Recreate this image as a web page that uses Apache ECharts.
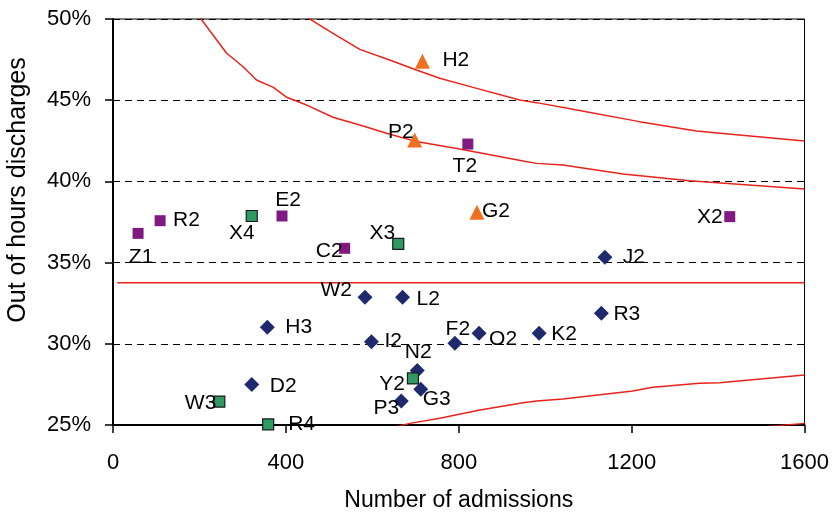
<!DOCTYPE html>
<html>
<head>
<meta charset="utf-8">
<script src="https://cdn.jsdelivr.net/npm/echarts@6/dist/echarts.min.js"></script>
<style>html,body{margin:0;padding:0;background:#fff}#c{width:832px;height:519px}</style>
</head>
<body>
<div id="c"></div>
<script>
// ---- data ----
const xTicks = [0, 400, 800, 1200, 1600];
const yTicks = [25, 30, 35, 40, 45, 50];

const triNames = ['H2', 'P2', 'G2'];
const triX = [716, 698, 842];
const triY = [47.4, 42.55, 38.1];

const purpleNames = ['Z1', 'R2', 'E2', 'C2', 'T2', 'X2'];
const purpleX = [58, 109, 391, 536, 821, 1427];
const purpleY = [36.8, 37.58, 37.87, 35.88, 42.3, 37.83];

const greenNames = ['X4', 'X3', 'Y2', 'W3', 'R4'];
const greenX = [321, 660, 694, 246, 359];
const greenY = [37.87, 36.15, 27.87, 26.44, 25.04];

const navyNames = ['W2', 'L2', 'H3', 'I2', 'F2', 'O2', 'K2', 'R3', 'J2', 'N2', 'G3', 'P3', 'D2'];
const navyX = [583, 670, 357, 598, 791, 847, 986, 1130, 1138, 704, 712, 667, 321];
const navyY = [32.86, 32.86, 31.02, 30.13, 30.03, 30.65, 30.65, 31.88, 35.33, 28.35, 27.2, 26.48, 27.5];

const centreN = [10, 1600];
const centreY = [33.76, 33.76];

const upperInnerN = [201, 240, 263, 301, 332, 371, 402, 448, 509, 571, 633, 702, 802, 949, 980, 1041, 1180, 1334, 1600];
const upperInnerY = [50.1, 48.71, 47.89, 47.06, 46.24, 45.79, 45.18, 44.70, 43.95, 43.47, 42.96, 42.45, 42.0, 41.26, 41.11, 41.01, 40.46, 40.04, 39.53];

const upperOuterN = [449, 509, 571, 640, 702, 756, 833, 941, 980, 1064, 1218, 1350, 1449, 1600];
const upperOuterY = [50.1, 49.12, 48.13, 47.48, 46.86, 46.35, 45.79, 45.01, 44.85, 44.44, 43.68, 43.10, 42.86, 42.49];

const lowerInnerN = [625, 687, 756, 849, 949, 980, 1041, 1203, 1249, 1357, 1403, 1600];
const lowerInnerY = [24.69, 25.10, 25.41, 25.92, 26.37, 26.48, 26.60, 27.09, 27.32, 27.57, 27.60, 28.08];

const lowerOuterN = [1419, 1500, 1600];
const lowerOuterY = [24.69, 24.87, 25.10];

// ---- label placement (style, not data): [align, dx, dy] ----
const labelPlace = {
  H2: ['left', 20, -1], P2: ['right', -1, -8], G2: ['left', 5, -1],
  Z1: ['center', 3, 24], R2: ['left', 13, 0], E2: ['center', 6, -16],
  C2: ['right', -2, 3], T2: ['center', -3, 22], X2: ['right', -7, 1],
  X4: ['right', 3, 17], X3: ['right', -3, -11], Y2: ['right', -8, 6],
  W3: ['right', -3, 2], R4: ['left', 20, 0],
  W2: ['right', -13, -7], L2: ['left', 14, 2], H3: ['left', 18, 0],
  I2: ['left', 13, 0], F2: ['center', 3, -14], O2: ['left', 10, 6],
  K2: ['left', 12, 1], R3: ['left', 12, 1], J2: ['left', 18, 0],
  N2: ['center', 1, -18], G3: ['left', 2, 10], P3: ['right', -2, 7],
  D2: ['left', 18, 1.5]
};

const FONT = "'Liberation Sans', Arial, sans-serif";

function pts(names, xs, ys) {
  return names.map((n, i) => {
    const p = labelPlace[n];
    return {
      name: n,
      value: [xs[i], ys[i]],
      label: { position: 'inside', align: p[0], verticalAlign: 'middle', offset: [p[1], p[2]] }
    };
  });
}
function line(ns, ys) { return ns.map((n, i) => [n, ys[i]]); }

const RED = '#e8231c';
const lineSeries = (d) => ({
  type: 'line', data: d, symbol: 'none', smooth: false, silent: true,
  lineStyle: { color: RED, width: 1.5 }, z: 2, clip: true
});
const labelStyle = {
  show: true, formatter: '{b}', color: '#000', fontSize: 21, fontFamily: FONT
};

const chart = echarts.init(document.getElementById('c'), null, { renderer: 'canvas' });
chart.setOption({
  animation: false,
  backgroundColor: '#fff',
  grid: { left: 113, right: 26, top: 19, bottom: 94, show: true, borderColor: '#000', borderWidth: 1, backgroundColor: 'transparent' },
  xAxis: {
    type: 'value', min: xTicks[0], max: xTicks[xTicks.length - 1], interval: 400,
    name: 'Number of admissions', nameLocation: 'middle', nameGap: 64,
    nameTextStyle: { fontSize: 23, color: '#000', fontFamily: FONT },
    axisLine: { onZero: false, lineStyle: { color: '#000', width: 2 } },
    axisTick: { show: true, length: 8, lineStyle: { color: '#000', width: 1.5 } },
    axisLabel: { fontSize: 22, color: '#000', fontFamily: FONT, margin: 27, formatter: (v) => String(v) },
    splitLine: { show: false }
  },
  yAxis: {
    type: 'value', min: yTicks[0], max: yTicks[yTicks.length - 1], interval: 5,
    axisLine: { onZero: false, lineStyle: { color: '#000', width: 2 } },
    axisTick: { show: true, length: 8, lineStyle: { color: '#000', width: 1.5 } },
    axisLabel: { fontSize: 22, color: '#000', fontFamily: FONT, margin: 22, formatter: (v) => v + '%' },
    splitLine: { show: true, lineStyle: { color: '#000', width: 1, type: [7, 5] } }
  },
  graphic: [{
    type: 'text', x: 18, y: 190, rotation: Math.PI / 2,
    style: { text: 'Out of hours discharges', fontSize: 25, fontFamily: FONT, fill: '#000', align: 'center', verticalAlign: 'middle' }
  }],
  series: [
    lineSeries(line(centreN, centreY)),
    lineSeries(line(upperInnerN, upperInnerY)),
    lineSeries(line(upperOuterN, upperOuterY)),
    lineSeries(line(lowerInnerN, lowerInnerY)),
    lineSeries(line(lowerOuterN, lowerOuterY)),
    {
      type: 'scatter', symbol: 'diamond', symbolSize: 15, z: 5,
      itemStyle: { color: '#1f2a6e', opacity: 1 }, label: labelStyle,
      data: pts(navyNames, navyX, navyY)
    },
    {
      type: 'scatter', symbol: 'rect', symbolSize: 11, z: 5,
      itemStyle: { color: '#2e9960', borderColor: '#1a1a1a', borderWidth: 1.2, opacity: 1 }, label: labelStyle,
      data: pts(greenNames, greenX, greenY)
    },
    {
      type: 'scatter', symbol: 'rect', symbolSize: 11, z: 5,
      itemStyle: { color: '#801a80', opacity: 1 }, label: labelStyle,
      data: pts(purpleNames, purpleX, purpleY)
    },
    {
      type: 'scatter', symbol: 'triangle', symbolSize: [15, 15], z: 5,
      itemStyle: { color: '#f07020', opacity: 1 }, label: labelStyle,
      data: pts(triNames, triX, triY)
    }
  ]
});
</script>
</body>
</html>
